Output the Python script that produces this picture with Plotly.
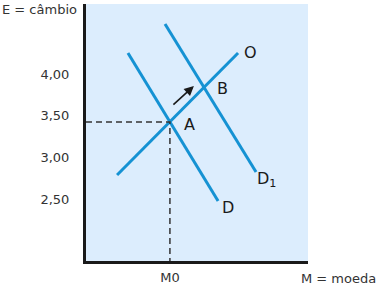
import plotly.graph_objects as go

# ---- data ----
y_tick_vals = [4.0, 3.5, 3.0, 2.5]
y_tick_text = ["4,00", "3,50", "3,00", "2,50"]
x_tick_vals = [3.78]
x_tick_text = ["M0"]

d_x = [1.89, 5.95]
d_y = [4.252, 2.476]
d1_x = [3.56, 7.66]
d1_y = [4.60, 2.824]
o_x = [1.40, 6.85]
o_y = [2.788, 4.252]

point_a = (3.78, 3.424)
arrow_tail = (3.87, 3.616)
arrow_head = (4.86, 3.856)

label_text = ["A", "B", "O", "D", "D<sub>1</sub>"]
label_x = [4.64, 6.13, 7.43, 6.40, 8.12]
label_y = [3.40, 3.832, 4.264, 2.404, 2.73]

x_range = [0, 10]
y_range = [1.756, 4.84]

LINE = "#1592d3"
FONT = "DejaVu Sans"

fig = go.Figure()
for xs, ys in [(d_x, d_y), (d1_x, d1_y), (o_x, o_y)]:
    fig.add_trace(go.Scatter(x=xs, y=ys, mode="lines",
                             line=dict(color=LINE, width=3), hoverinfo="skip"))

# dashed guides to point A
fig.add_trace(go.Scatter(x=[x_range[0], point_a[0], point_a[0]],
                         y=[point_a[1], point_a[1], y_range[0]],
                         mode="lines", line=dict(color="#333333", width=1.5, dash="6px,4px"),
                         hoverinfo="skip"))

for t, x, y in zip(label_text, label_x, label_y):
    fig.add_annotation(x=x, y=y, text=t, showarrow=False,
                       font=dict(family=FONT, size=16, color="#1a1a1a"))

fig.add_annotation(x=arrow_head[0], y=arrow_head[1], ax=arrow_tail[0], ay=arrow_tail[1],
                   axref="x", ayref="y", xref="x", yref="y", text="",
                   showarrow=True, arrowhead=2, arrowsize=1.2, arrowwidth=1.6,
                   arrowcolor="#1a1a1a")

fig.add_annotation(xref="paper", yref="paper", x=-0.387, y=1.0, xanchor="left",
                   yanchor="top", yshift=4, text="E = câmbio", showarrow=False,
                   font=dict(family=FONT, size=13, color="#333333"))
fig.add_annotation(xref="paper", yref="paper", x=1.315, y=0.0, xanchor="right",
                   yanchor="top", yshift=-8, text="M = moeda", showarrow=False,
                   font=dict(family=FONT, size=13, color="#333333"))

fig.update_layout(
    width=380, height=285,
    margin=dict(l=86, r=72, t=4, b=24, autoexpand=False),
    paper_bgcolor="white", plot_bgcolor="#dcedfd",
    showlegend=False,
    font=dict(family=FONT, size=13, color="#333333"),
)
fig.update_xaxes(range=x_range, showgrid=False, zeroline=False, automargin=False,
                 showline=True, linewidth=3, linecolor="#1a1a1a",
                 tickvals=x_tick_vals, ticktext=x_tick_text, ticks="",
                 ticklabelstandoff=2, fixedrange=True)
fig.update_yaxes(range=y_range, showgrid=False, zeroline=False, automargin=False,
                 showline=True, linewidth=3, linecolor="#1a1a1a",
                 tickvals=y_tick_vals, ticktext=y_tick_text, ticks="",
                 ticklabelstandoff=11, fixedrange=True)

fig.write_html("out.html", config={"displayModeBar": False})
